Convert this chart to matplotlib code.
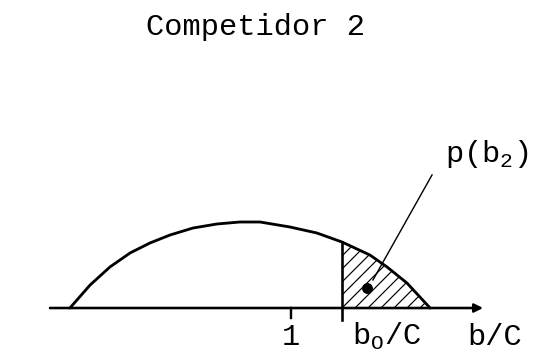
"""
Competidor 2: density of b/C with the tail beyond b_o/C hatched (p(b2))
"""
import numpy as np
import matplotlib.pyplot as plt

plt.rcParams['font.family'] = ['Liberation Mono', 'DejaVu Sans']
plt.rcParams['mathtext.fontset'] = 'custom'
plt.rcParams['mathtext.rm'] = 'Liberation Mono'
plt.rcParams['hatch.linewidth'] = 1.1

#----------------------------------------------------------------
# Values (x in b/C, height normalised to peak)

curve_x = [0.199, 0.272, 0.344, 0.417, 0.489, 0.562, 0.645, 0.732, 0.815,
           0.888, 0.996, 1.094, 1.185, 1.286, 1.348, 1.420, 1.504]
curve_y = [0.0, 0.267, 0.477, 0.640, 0.756, 0.849, 0.930, 0.977, 1.0,
           1.0, 0.942, 0.872, 0.767, 0.616, 0.477, 0.291, 0.0]

b0 = 1.185              # b_o/C, start of the hatched tail
tick_one = 1.0
dot_x, dot_y = 1.275, 0.233
axis_start, axis_end = 0.127, 1.696

title = 'Competidor 2'
label_tail = 'p(b$_2$)'
label_one = '1'
label_b0 = 'b$_\\mathrm{O}$/C'
label_axis = 'b/C'

#----------------------------------------------------------------

mydpi = 78
fig = plt.figure(figsize=(550/mydpi, 361/mydpi), dpi=mydpi)
ax = fig.add_axes([0, 0, 1, 1])
ax.set_xlim(-0.0543, 1.9384)
ax.set_ylim(-0.616, 3.581)
ax.axis('off')

cx = np.array(curve_x)
cy = np.array(curve_y)

# density curve
ax.plot(cx, cy, color='black', lw=2.6, solid_capstyle='round', solid_joinstyle='round')

# hatched tail beyond b_o/C
tail = cx >= b0
ax.fill_between(cx[tail], 0, cy[tail], facecolor='none', edgecolor='black',
                hatch='//', lw=0)

# horizontal axis with arrow
ax.annotate('', xy=(axis_end, 0), xytext=(axis_start, 0),
            arrowprops=dict(arrowstyle='-|>', color='black', lw=2.4,
                            mutation_scale=16, shrinkA=0, shrinkB=0))

# tick at 1 and vertical line at b_o/C
ax.plot([tick_one, tick_one], [0, -0.116], color='black', lw=2.2)
ax.plot([b0, b0], [-0.14, cy[curve_x.index(b0)]], color='black', lw=2.4)

# dot and leader line to the label
ax.plot([dot_x], [dot_y], 'o', color='black', markersize=9)
ax.plot([1.297, 1.511], [0.326, 1.547], color='black', lw=1.3)

fs = 28
ax.text(0.465, 0.903, title, transform=ax.transAxes, ha='center',
        va='baseline', fontsize=fs)
ax.text(1.558, 1.698, label_tail, ha='left', va='baseline', fontsize=fs)
ax.text(tick_one, -0.43, label_one, ha='center', va='baseline', fontsize=fs)
ax.text(1.221, -0.43, label_b0, ha='left', va='baseline', fontsize=fs)
ax.text(1.638, -0.43, label_axis, ha='left', va='baseline', fontsize=fs)

plt.savefig('out.png', dpi=mydpi)
